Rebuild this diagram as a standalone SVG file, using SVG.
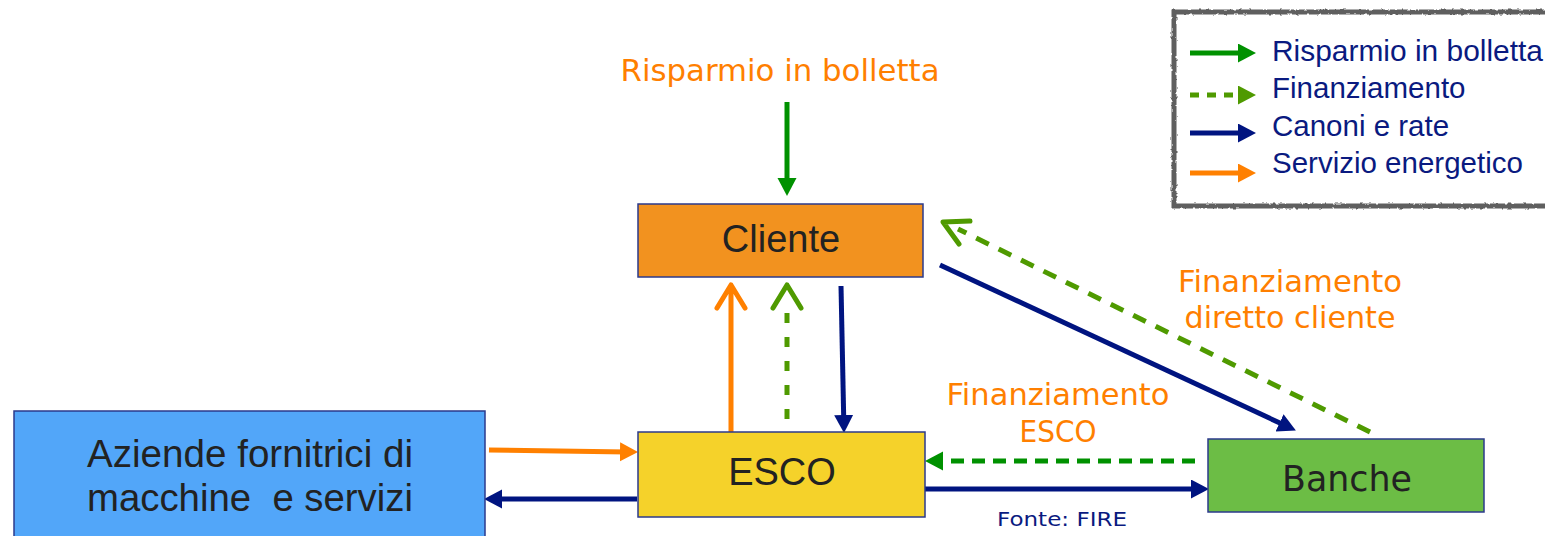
<svg xmlns="http://www.w3.org/2000/svg" width="1545" height="536" viewBox="0 0 1545 536">
<style>
.box{stroke:#2B3A8C;stroke-width:1.5}
.bt{font-family:"Liberation Sans",Arial,sans-serif;fill:#222;text-anchor:middle}
.lt{font-family:"DejaVu Sans",Verdana,sans-serif;fill:#FF7F00;text-anchor:middle}
.leg{font-family:"Liberation Sans",Arial,sans-serif;fill:#0A1A80;font-size:29.5px}
.c{fill:none;stroke-width:5}
.green{stroke:#009100}
.olive{stroke:#4F9A00}
.navy{stroke:#001480}
.orange{stroke:#FF8000}
</style>
<defs>
<marker id="hGreen" markerUnits="userSpaceOnUse" markerWidth="19" markerHeight="20" refX="7" refY="9.5" orient="auto"><path d="M0,0 L18,9.5 L0,19 Z" fill="#009100"/></marker>
<marker id="hOlive" markerUnits="userSpaceOnUse" markerWidth="19" markerHeight="20" refX="7" refY="9.5" orient="auto"><path d="M0,0 L18,9.5 L0,19 Z" fill="#4F9A00"/></marker>
<marker id="hNavy" markerUnits="userSpaceOnUse" markerWidth="19" markerHeight="20" refX="7" refY="9.5" orient="auto"><path d="M0,0 L18,9.5 L0,19 Z" fill="#001480"/></marker>
<marker id="hOrange" markerUnits="userSpaceOnUse" markerWidth="19" markerHeight="20" refX="7" refY="9.5" orient="auto"><path d="M0,0 L18,9.5 L0,19 Z" fill="#FF8000"/></marker>
<filter id="rough" x="-5%" y="-5%" width="110%" height="110%">
<feTurbulence type="fractalNoise" baseFrequency="0.25" numOctaves="2" seed="3" result="n"/>
<feDisplacementMap in="SourceGraphic" in2="n" scale="3"/>
</filter>
</defs>

<g id="legend">
<rect x="1174" y="12" width="400" height="194" fill="#fff" stroke="#5E5E5E" stroke-width="5" filter="url(#rough)"/>
<line x1="1190" y1="53" x2="1245" y2="53" class="c green" marker-end="url(#hGreen)"/>
<line x1="1190" y1="95" x2="1245" y2="95" class="c olive" stroke-dasharray="9 8" marker-end="url(#hOlive)"/>
<line x1="1190" y1="133" x2="1245" y2="133" class="c navy" marker-end="url(#hNavy)"/>
<line x1="1190" y1="173" x2="1245" y2="173" class="c orange" marker-end="url(#hOrange)"/>
<text class="leg" x="1272" y="61" textLength="271" lengthAdjust="spacingAndGlyphs">Risparmio in bolletta</text>
<text class="leg" x="1272" y="98">Finanziamento</text>
<text class="leg" x="1272" y="136">Canoni e rate</text>
<text class="leg" x="1272" y="173">Servizio energetico</text>
</g>

<g id="connectors">
<line x1="787" y1="102" x2="787" y2="185" class="c green" marker-end="url(#hGreen)"/>
<path d="M731,432 L731,287 M717,308 L731,285 L745,308" class="c orange" stroke-linecap="round" stroke-linejoin="round"/>
<line x1="787" y1="313" x2="787" y2="432" class="c olive" stroke-dasharray="10 14"/>
<path d="M773,308 L787,285 L801,308" class="c olive" stroke-linecap="round" stroke-linejoin="round"/>
<line x1="841" y1="286" x2="843.8" y2="422" class="c navy" marker-end="url(#hNavy)"/>
<line x1="940" y1="265" x2="1285.9" y2="425.8" class="c navy" marker-end="url(#hNavy)"/>
<line x1="1370" y1="432" x2="958" y2="229" class="c olive" stroke-dasharray="14 11"/>
<path d="M970,221 L943,222 L959,244" class="c olive" stroke-linecap="round" stroke-linejoin="round"/>
<line x1="1195" y1="461" x2="936" y2="461" class="c green" stroke-dasharray="13 8" marker-end="url(#hGreen)"/>
<line x1="925" y1="489" x2="1198" y2="489" class="c navy" marker-end="url(#hNavy)"/>
<line x1="489" y1="450" x2="627" y2="451.9" class="c orange" marker-end="url(#hOrange)"/>
<line x1="637" y1="499" x2="495" y2="499" class="c navy" marker-end="url(#hNavy)"/>
</g>

<g id="label-risparmio">
<text class="lt" x="780" y="81" font-size="30" textLength="319" lengthAdjust="spacingAndGlyphs">Risparmio in bolletta</text>
</g>
<g id="label-diretto">
<text class="lt" x="1290" y="292" font-size="30" textLength="224" lengthAdjust="spacingAndGlyphs">Finanziamento</text>
<text class="lt" x="1290" y="328" font-size="30" textLength="211" lengthAdjust="spacingAndGlyphs">diretto cliente</text>
</g>
<g id="label-esco">
<text class="lt" x="1058" y="405" font-size="30" textLength="223" lengthAdjust="spacingAndGlyphs">Finanziamento</text>
<text class="lt" x="1058" y="442" font-size="30" textLength="77" lengthAdjust="spacingAndGlyphs">ESCO</text>
</g>
<g id="label-fonte">
<text x="1062" y="526" font-family="'DejaVu Sans',Verdana,sans-serif" font-size="20" fill="#0A1A80" text-anchor="middle" textLength="130" lengthAdjust="spacingAndGlyphs">Fonte: FIRE</text>
</g>

<g id="node-cliente">
<rect class="box" x="638" y="204" width="285" height="73" fill="#F2921F"/>
<text class="bt" x="781" y="252" font-size="38">Cliente</text>
</g>
<g id="node-esco">
<rect class="box" x="638" y="432" width="287" height="85" fill="#F5D22A"/>
<text class="bt" x="782" y="485" font-size="38">ESCO</text>
</g>
<g id="node-aziende">
<rect class="box" x="14" y="411" width="471" height="130" fill="#52A6F9"/>
<text class="bt" x="250" y="467" font-size="38" textLength="326" lengthAdjust="spacingAndGlyphs">Aziende fornitrici di</text>
<text class="bt" x="250" y="511" font-size="38" textLength="326" lengthAdjust="spacingAndGlyphs" xml:space="preserve">macchine  e servizi</text>
</g>
<g id="node-banche">
<rect class="box" x="1208" y="439" width="276" height="73" fill="#6CBD45"/>
<text x="1347" y="491" font-family="'DejaVu Sans',Verdana,sans-serif" font-size="35" fill="#222" text-anchor="middle" textLength="130" lengthAdjust="spacingAndGlyphs">Banche</text>
</g>
</svg>
